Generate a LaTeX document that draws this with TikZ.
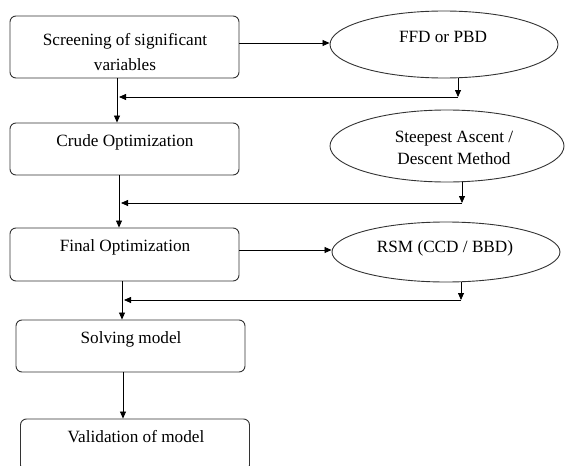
\documentclass[tikz,border=0pt]{standalone}
\usepackage{fontspec}
\setmainfont{Liberation Serif}
\usetikzlibrary{shapes.geometric,arrows.meta}
\begin{document}
\begin{tikzpicture}[x=1pt,y=-1pt,
  box/.style={draw=black!80, line width=0.9pt, rounded corners=6pt,
    minimum width=229pt, minimum height=52pt, inner sep=0pt},
  oval/.style={draw=black!80, line width=0.9pt, ellipse, inner sep=0pt},
  lbl/.style={font=\fontsize{17.2}{25}\selectfont, align=center, inner sep=0pt},
  lbltight/.style={lbl, font=\fontsize{17.2}{22}\selectfont},
  arr/.style={-{Triangle[length=7pt,width=6pt]}, line width=0.8pt},
  link/.style={line width=0.8pt}]
\clip (0,0) rectangle (566,466);
\fill[white] (0,0) rectangle (566,466);

% process boxes (left column)
\node[box, minimum height=62pt] (b1) at (124.5,47) {};
\node[box] (b2) at (124.5,149) {};
\node[box, minimum height=53pt] (b3) at (124.5,254.5) {};
\node[box] (b4) at (130.5,346) {};
\node[box] (b5) at (135,445) {};

\node[lbl] (t1) at (125,52.5) {Screening of significant\\variables};
\node[lbl] (t2) at (125,142) {Crude Optimization};
\node[lbl] (t3) at (125,247) {Final Optimization};
\node[lbl] (t4) at (131,339) {Solving model};
\node[lbl] (t5) at (136,437) {Validation of model};

% methods (right column)
\node[oval, minimum width=228pt, minimum height=67pt] (e1) at (444,44.5) {};
\node[oval, minimum width=234pt, minimum height=72pt] (e2) at (447,146) {};
\node[oval, minimum width=228pt, minimum height=60pt] (e3) at (446,252) {};

\node[lbl] (s1) at (443,37) {FFD or PBD};
\node[lbltight] (s2) at (454,148) {Steepest Ascent /\\Descent Method};
\node[lbl] (s3) at (445,248) {RSM (CCD / BBD)};

% junction points
\coordinate (c1) at (458,97);
\coordinate (m1) at (119,97);
\coordinate (c2) at (462,203);
\coordinate (m2) at (121,203);
\coordinate (c3) at (461,300);
\coordinate (m3) at (124,300);

\coordinate (v1) at (117,0);
\coordinate (v2) at (119,0);
\coordinate (v3) at (122,0);
\coordinate (v4) at (123,0);

% box to method
\draw[arr] (b1.east |- 0,43) -- (e1.west |- 0,43);
\draw[arr] (b3.east |- 0,250) -- (e3.west |- 0,250);

% method results fed back into the main flow
\draw[arr] (e1.south -| c1) -- (c1);
\draw[arr] (c1) -- (m1);
\draw[arr] (e2.south -| c2) -- (c2);
\draw[arr] (c2) -- (m2);
\draw[arr] (e3.south -| c3) -- (c3);
\draw[arr] (c3) -- (m3);

% main flow
\draw[arr] (b1.south -| v1) -- (b2.north -| v1);
\draw[arr] (b2.south -| v2) -- (b3.north -| v2);
\draw[arr] (b3.south -| v3) -- (b4.north -| v3);
\draw[arr] (b4.south -| v4) -- (b5.north -| v4);
\end{tikzpicture}
\end{document}
